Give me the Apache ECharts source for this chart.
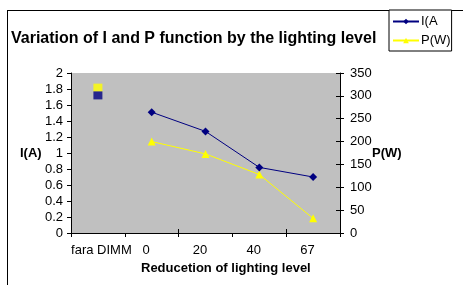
<!DOCTYPE html>
<html><head><meta charset="utf-8">
<script src="https://cdn.jsdelivr.net/npm/echarts@6/dist/echarts.min.js"></script>
<style>html,body{margin:0;padding:0;background:#fff}#c{width:463px;height:285px}</style>
</head><body><div id="c"></div>
<script>
var categories = ['fara DIMM', '0', '20', '40', '67'];
var currentA = [null, 1.51, 1.27, 0.82, 0.70];
var powerW = [null, 200, 173, 128, 32];
var currentNoDimm = [1.72, null, null, null, null];
var powerNoDimm = [318, null, null, null, null];
var leftTicks = [0, 2, 0.2];
var rightTicks = [0, 350, 50];

var F = 'Liberation Sans, Arial, sans-serif';
var chart = echarts.init(document.getElementById('c'));
chart.setOption({
  backgroundColor: '#fff',
  animation: false,
  title: {text: 'Variation of I and P function by the lighting level', left: 6, top: 26,
    textStyle: {fontFamily: F, fontSize: 16, fontWeight: 'bold', color: '#000'}},
  legend: {orient: 'vertical', left: 389, top: 10,
    data: ['I(A', 'P(W)'], backgroundColor: '#fff', borderColor: '#000', borderWidth: 1,
    padding: [5, 1, 4, 3], itemGap: 6, itemWidth: 26, itemHeight: 7,
    textStyle: {fontFamily: F, fontSize: 13, color: '#000', padding: [0, 0, 0, -3]}},
  grid: {left: 71, right: 123, top: 73, bottom: 52, show: true, backgroundColor: '#C0C0C0', borderWidth: 0},
  xAxis: [{type: 'category', data: categories, boundaryGap: true,
    axisLine: {lineStyle: {color: '#000', width: 1}},
    axisTick: {show: true, length: 4, lineStyle: {color: '#000'}},
    axisLabel: {interval: 0, margin: 11, color: '#000', fontFamily: F, fontSize: 13,
      formatter: function (v, i) { return i === 0 ? '{a|' + v + '}' : '{b|' + v + '}'; },
      rich: {a: {fontFamily: F, fontSize: 13, color: '#000', padding: [0, 0, 0, 7]},
             b: {fontFamily: F, fontSize: 13, color: '#000', padding: [0, 11, 0, 0]}}},
    splitLine: {show: false}},
   {type: 'category', data: categories, position: 'bottom', boundaryGap: true,
    axisLine: {show: false}, axisLabel: {show: false},
    axisTick: {show: true, inside: true, length: 4, lineStyle: {color: '#000'}}}],
  yAxis: [{type: 'value', min: leftTicks[0], max: leftTicks[1], interval: leftTicks[2], position: 'left',
    axisLine: {show: true, lineStyle: {color: '#000'}},
    axisTick: {show: true, length: 4, lineStyle: {color: '#000'}},
    axisLabel: {margin: 8, color: '#000', fontFamily: F, fontSize: 13},
    splitLine: {show: false}},
   {type: 'value', min: rightTicks[0], max: rightTicks[1], interval: rightTicks[2], position: 'right',
    axisLine: {show: true, lineStyle: {color: '#000'}},
    axisTick: {show: true, length: 4, lineStyle: {color: '#000'}},
    axisLabel: {margin: 10, color: '#000', fontFamily: F, fontSize: 13},
    splitLine: {show: false}},
   {type: 'value', min: rightTicks[0], max: rightTicks[1], interval: rightTicks[2], position: 'right',
    axisLine: {show: false}, axisLabel: {show: false}, splitLine: {show: false},
    axisTick: {show: true, inside: true, length: 4, lineStyle: {color: '#000'}}}],
  series: [
    {name: 'P(W)', type: 'line', yAxisIndex: 1, data: powerW, symbol: 'triangle', symbolSize: 8,
      lineStyle: {color: '#FFFF00', width: 1}, itemStyle: {color: '#FFFF00'}, connectNulls: false},
    {name: 'I(A', type: 'line', yAxisIndex: 0, data: currentA, symbol: 'diamond', symbolSize: 8,
      lineStyle: {color: '#000080', width: 1}, itemStyle: {color: '#000080'}, z: 3},
    {name: 'pnd', type: 'scatter', yAxisIndex: 1, data: powerNoDimm, symbol: 'rect', symbolSize: [9, 8],
      itemStyle: {color: '#FFFF00'}},
    {name: 'ind', type: 'scatter', yAxisIndex: 0, data: currentNoDimm, symbol: 'rect', symbolSize: [9, 8],
      itemStyle: {color: '#000080'}, z: 4}
  ],
  graphic: [
    {type: 'line', shape: {x1: 7.5, y1: 10.5, x2: 7.5, y2: 285}, style: {stroke: '#000', lineWidth: 1}, z: 100},
    {type: 'line', shape: {x1: 7, y1: 10.5, x2: 463, y2: 10.5}, style: {stroke: '#000', lineWidth: 1}, z: -1},
    {type: 'text', left: 20, top: 147, style: {text: 'I(A)', font: 'bold 13px ' + F, fill: '#000'}},
    {type: 'text', left: 372, top: 147, style: {text: 'P(W)', font: 'bold 13px ' + F, fill: '#000'}},
    {type: 'text', left: 141, top: 262, style: {text: 'Reducetion of lighting level', font: 'bold 13px ' + F, fill: '#000'}}
  ]
});
</script></body></html>
